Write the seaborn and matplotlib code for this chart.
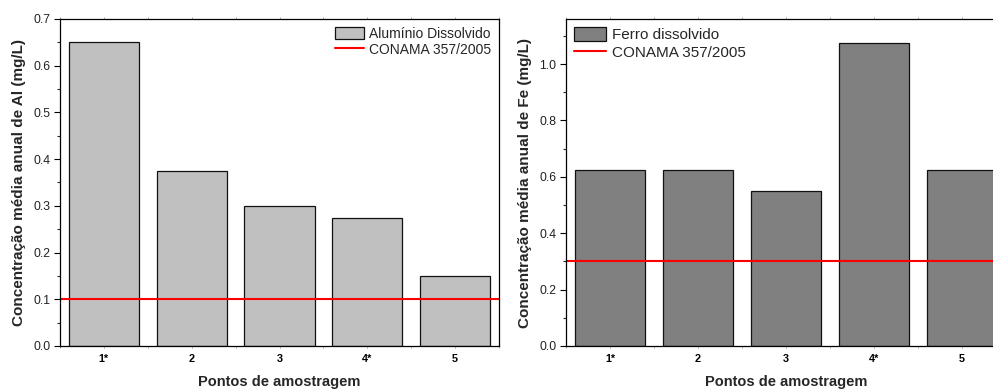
import matplotlib
matplotlib.use("Agg")
import matplotlib.pyplot as plt
import seaborn as sns
import pandas as pd
from matplotlib.ticker import MultipleLocator

sns.set_theme(style="white")
plt.rcParams['font.family'] = ['Liberation Sans', 'DejaVu Sans']

pontos = ["1*", "2", "3", "4*", "5"]
aluminio = [0.65, 0.375, 0.30, 0.275, 0.15]
ferro = [0.625, 0.625, 0.55, 1.075, 0.625]
conama_al = 0.1
conama_fe = 0.3

fig = plt.figure(figsize=(9.93, 3.90), dpi=100)
ax1 = fig.add_axes([60/993, 1-346/390, 439/993, 327/390])
ax2 = fig.add_axes([566/993, 1-346/390, 440/993, 327/390])

def draw(ax, vals, color, label, limit, ylim, major, minor, ylabel, legloc, bbox, legsize):
    df = pd.DataFrame({"p": pontos, "v": vals})
    sns.barplot(data=df, x="p", y="v", ax=ax, color=color, edgecolor="#111111",
                linewidth=0.9, width=0.8, saturation=1, label=label)
    ax.axhline(limit, color="#FF0000", lw=1.5, label="CONAMA 357/2005")
    ax.set_xlim(-0.5, 4.5)
    ax.set_ylim(*ylim)
    ax.yaxis.set_major_locator(MultipleLocator(major))
    ax.yaxis.set_minor_locator(MultipleLocator(minor))
    ax.xaxis.set_minor_locator(MultipleLocator(0.5))
    ax.yaxis.set_major_formatter(plt.FormatStrFormatter('%.1f'))
    ax.tick_params(axis='y', which='major', direction='out', length=4, width=0.8,
                   left=True, labelsize=8.8, pad=3, color='black', labelcolor='#222222')
    ax.tick_params(axis='y', which='minor', direction='out', length=2.2, width=0.8, left=True)
    ax.tick_params(axis='x', which='both', direction='out', length=1.5, width=0.5,
                   bottom=True, top=True, labelsize=7.8, pad=4, color='#888888',
                   labelcolor='black')
    for t in ax.get_xticklabels():
        t.set_fontweight('bold')
    for s in ax.spines.values():
        s.set_color('black')
        s.set_linewidth(0.9)
    ax.set_xlabel("Pontos de amostragem", fontsize=10.5, fontweight='bold', labelpad=8)
    ax.set_ylabel(ylabel, fontsize=11, fontweight='bold', labelpad=5)
    h, l = ax.get_legend_handles_labels()
    order = [l.index(label), l.index("CONAMA 357/2005")]
    ax.legend([h[i] for i in order], [l[i] for i in order], loc=legloc, bbox_to_anchor=bbox,
              frameon=False, fontsize=legsize, handlelength=2.1, handleheight=1.0,
              handletextpad=0.35, labelspacing=0.15, borderaxespad=0.15)

draw(ax1, aluminio, "#C0C0C0", "Alumínio Dissolvido", conama_al, (0, 0.7), 0.1, 0.05,
     "Concentração média anual de Al (mg/L)", "upper right", (1.0, 1.0), 10)
draw(ax2, ferro, "#808080", "Ferro dissolvido", conama_fe, (0, 1.16), 0.2, 0.1,
     "Concentração média anual de Fe (mg/L)", "upper left", (0.0, 1.0), 11)

fig.savefig("out.png", dpi=100)
